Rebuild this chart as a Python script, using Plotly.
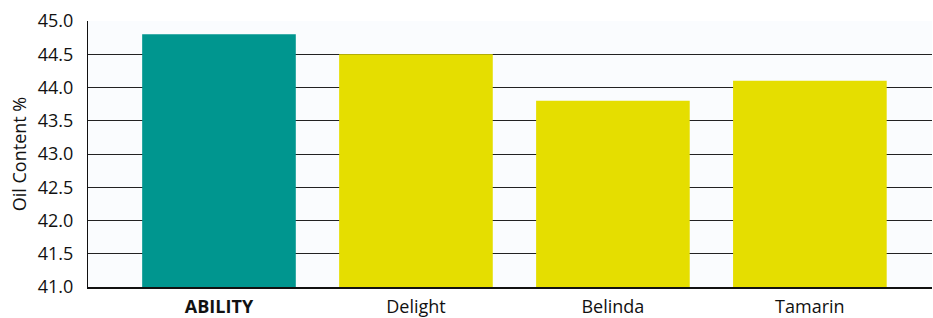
import plotly.graph_objects as go

categories = ["ABILITY", "Delight", "Belinda", "Tamarin"]
tick_labels = ["<b>ABILITY</b>", "Delight", "Belinda", "Tamarin"]
oil_content = [44.8, 44.5, 43.8, 44.1]
bar_colors = ["#00968f", "#e5de00", "#e5de00", "#e5de00"]

fig = go.Figure(go.Bar(
    x=categories, y=oil_content, marker=dict(color=bar_colors, line=dict(width=0)),
))

fig.update_layout(
    width=933, height=318,
    margin=dict(l=88, r=1, t=21, b=31, autoexpand=False),
    paper_bgcolor="white", plot_bgcolor="#fafcfe",
    bargap=0.22, showlegend=False,
    font=dict(family="Open Sans, sans-serif", size=18, color="#111"),
)
fig.update_xaxes(
    tickmode="array", tickvals=categories, ticktext=tick_labels,
    range=[-0.665, 3.62], showline=True, linecolor="#111", linewidth=1.5,
    ticks="", showgrid=False, tickfont=dict(size=18), automargin=False,
    ticklabelstandoff=3,
)
fig.update_yaxes(
    range=[41, 45], dtick=0.5, tickformat=".1f",
    showgrid=True, gridcolor="#222", gridwidth=1,
    showline=True, linecolor="#111", linewidth=1,
    ticks="", ticklabelstandoff=10, zeroline=False, automargin=False,
    title=dict(text="Oil Content %", font=dict(size=18), standoff=6),
)
fig.write_html("out.html", config={"displayModeBar": False},
               post_script="document.body.style.margin='0';document.body.style.overflow='hidden';")
